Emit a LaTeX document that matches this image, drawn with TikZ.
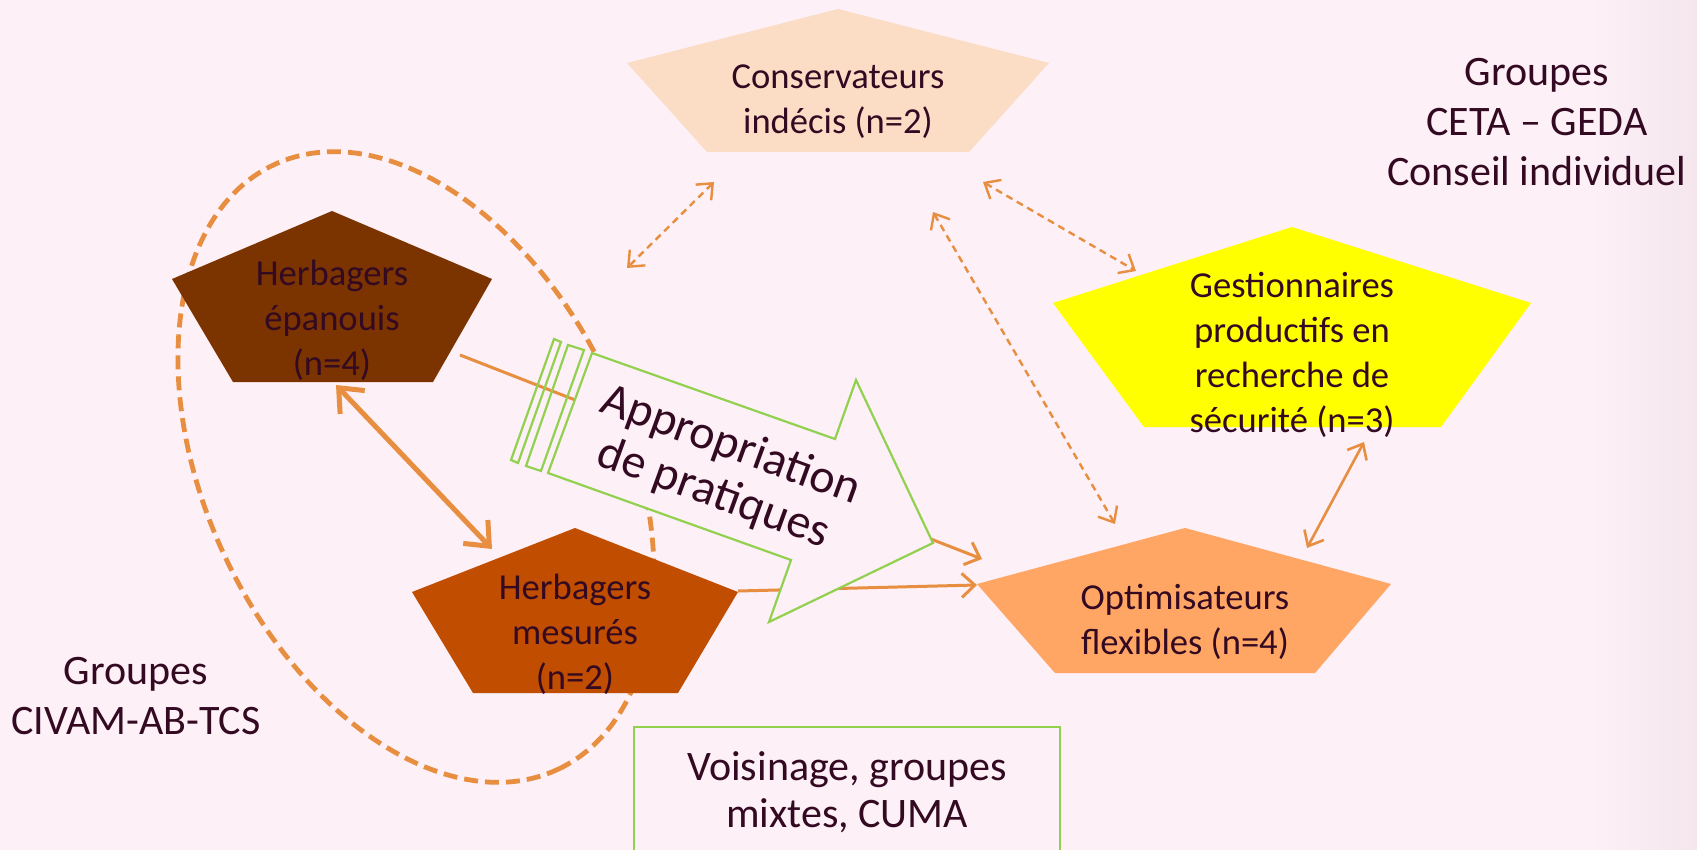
\documentclass[tikz,border=0pt]{standalone}
\usepackage{fontspec}
\setmainfont{Carlito}
\usetikzlibrary{arrows.meta}
\definecolor{bg}{HTML}{FDF0F6}
\definecolor{bgR}{HTML}{F5E6EE}
\definecolor{txt}{HTML}{330A22}
\definecolor{org}{HTML}{E88E40}
\definecolor{grn}{HTML}{92D050}
\definecolor{cPeach}{HTML}{FBDCC5}
\definecolor{cDark}{HTML}{7B3300}
\definecolor{cMid}{HTML}{C04D00}
\definecolor{cYel}{HTML}{FFFF00}
\definecolor{cOpt}{HTML}{FFA664}
\tikzset{
  lbl/.style={text=txt, align=center, font=\fontsize{36.6}{45}\selectfont, inner sep=0pt},
  big/.style={text=txt, align=center, font=\fontsize{42}{50}\selectfont, inner sep=0pt},
  dashlink/.style={draw=org, line width=2.4pt, dash pattern=on 7pt off 5pt, {Straight Barb[length=13pt,width=22pt]}-{Straight Barb[length=13pt,width=22pt]}},
  thinlink/.style={draw=org, line width=2.6pt, {Straight Barb[length=13pt,width=22pt]}-{Straight Barb[length=13pt,width=22pt]}},
  thicklink/.style={draw=org, line width=5pt, {Straight Barb[length=20pt,width=34pt]}-{Straight Barb[length=20pt,width=34pt]}},
  flowlink/.style={draw=org, line width=3pt, -{Straight Barb[length=13pt,width=24pt]}},
  ell/.style={draw=org, line width=4.8pt, dash pattern=on 14pt off 7pt},
  greenline/.style={draw=grn, line width=2.2pt}
}
\begin{document}
\begin{tikzpicture}[x=1pt,y=-1pt]
\useasboundingbox (0,0) rectangle (1697,850);
\clip (0,0) rectangle (1697,850);
\fill[bg] (0,0) rectangle (1697,850);
\shade[left color=bg,right color=bgR] (1590,0) rectangle (1697,850);

% dashed ellipse (behind everything)
\draw[ell, rotate around={-64.8:(416,467)}] (416,467) ellipse [x radius=334pt, y radius=211pt];

% coordinates for connectors
\coordinate (c1a) at (714,182); \coordinate (c1b) at (627,268);
\coordinate (c2a) at (983,182); \coordinate (c2b) at (1136,271);
\coordinate (c3a) at (933,212); \coordinate (c3b) at (1115,524);
\coordinate (c4a) at (1364,442); \coordinate (c4b) at (1307,548);
\coordinate (c5a) at (336,385); \coordinate (c5b) at (492,549);
\coordinate (c6a) at (460,355); \coordinate (c6b) at (982,559);
\coordinate (c7a) at (738,591); \coordinate (c7b) at (977,585);

% flow lines under the big arrow
\draw[flowlink] (c6a) -- (c6b);
\draw[flowlink] (c7a) -- (c7b);

% big striped arrow
\filldraw[greenline, fill=bg, line join=miter] (592,353) -- (835,439) -- (856,380) -- (933,543) -- (769,622) -- (791,560) -- (548,473) -- cycle;
\draw[greenline] (568,345) -- (584,350) -- (541,471) -- (526,466) -- cycle;
\draw[greenline] (554,339) -- (561,342) -- (518,463) -- (511,460) -- cycle;
\node[text=txt, align=center, font=\fontsize{48}{51}\selectfont, inner sep=0pt, rotate=-20] (appr) at (722,470) {Appropriation\\de pratiques};

% pentagons
\fill[cPeach] (838,9) -- (1049,63) -- (969,152) -- (707,152) -- (627,63) -- cycle;
\fill[cDark] (332,211) -- (492,279) -- (433,382) -- (233,382) -- (172,279) -- cycle;
\fill[cMid] (575,528) -- (738,592) -- (678,693) -- (473,693) -- (412,592) -- cycle;
\fill[cYel] (1292,227) -- (1531,303) -- (1441,427) -- (1144,427) -- (1053,303) -- cycle;
\fill[cOpt] (1185,528) -- (1391,584) -- (1315,673) -- (1055,673) -- (977,584) -- cycle;

% connectors
\draw[dashlink] (c1a) -- (c1b);
\draw[dashlink] (c2a) -- (c2b);
\draw[dashlink] (c3a) -- (c3b);
\draw[thinlink] (c4a) -- (c4b);
\draw[thicklink] (c5a) -- (c5b);

% labels
\node[lbl] (cons) at (838,102) {Conservateurs\\indécis (n=2)};
\node[lbl] (epan) at (332,320) {Herbagers\\épanouis\\(n=4)};
\node[lbl] (mesu) at (575,634) {Herbagers\\mesurés\\(n=2)};
\node[lbl] (gest) at (1292,355) {Gestionnaires\\productifs en\\recherche de\\sécurité (n=3)};
\node[lbl] (opti) at (1185,622) {Optimisateurs\\flexibles (n=4)};
\node[big] (ceta) at (1537,122) {Groupes\\CETA – GEDA\\Conseil individuel};
\node[big] (civam) at (136,696) {Groupes\\CIVAM-AB-TCS};

% bottom box
\draw[greenline] (634,727) rectangle (1060,880);
\node[big, font=\fontsize{42}{47}\selectfont] (vois) at (847,792) {Voisinage, groupes\\mixtes, CUMA};
\end{tikzpicture}
\end{document}
